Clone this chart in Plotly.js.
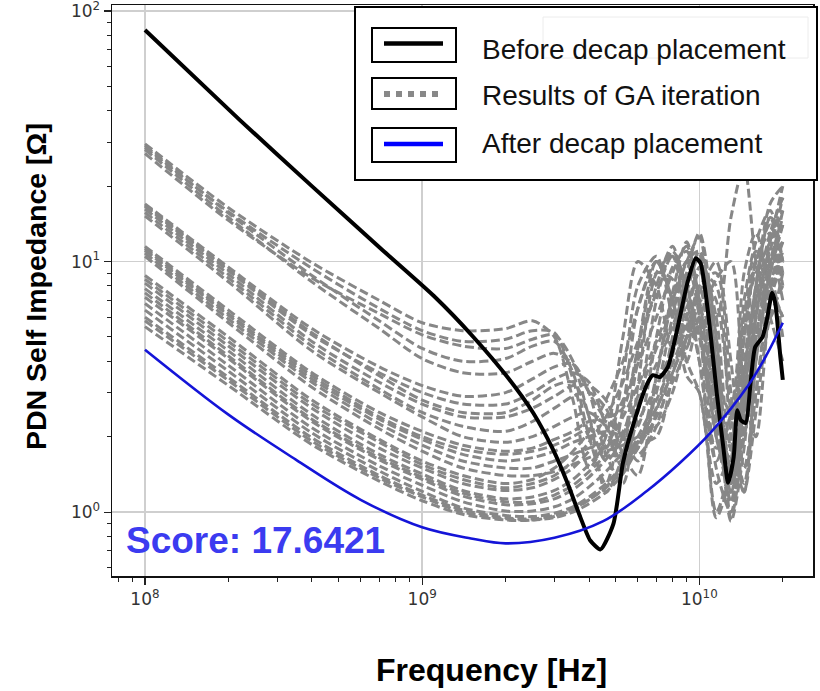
<!DOCTYPE html>
<html><head><meta charset="utf-8">
<script src="https://cdn.plot.ly/plotly-3.0.1.min.js"></script>
<style>html,body{margin:0;padding:0;background:#fff;} #chart{width:820px;height:691px;}</style>
</head><body><div id="chart"></div>
<script>
// ---------- data ----------
const gaFreq = [1e8, 2e8, 4e8, 7e8, 1e9, 1.4e9, 2e9, 2.5e9, 3e9, 3.5e9, 4e9, 4.6e9, 5.3e9, 6e9, 7e9, 8e9, 9e9, 1e10, 1.15e10, 1.3e10, 1.45e10, 1.6e10, 1.8e10, 2e10];
const gaRuns = [
  [29.5, 16.4, 9.9, 7.0, 5.7, 5.3, 5.4, 5.8, 5.0, 2.8, 1.5, 2.0, 5.0, 10.0, 8.0, 4.5, 6.0, 9.5, 3.5, 2.5, 9.0, 13.0, 8.0, 6.0],
  [28.5, 15.8, 9.4, 6.5, 5.3, 4.8, 4.9, 5.3, 5.2, 3.4, 2.0, 1.8, 3.5, 8.0, 10.5, 6.0, 4.0, 6.0, 2.5, 1.6, 5.0, 10.0, 14.0, 9.0],
  [29.0, 15.6, 8.8, 5.8, 4.5, 4.0, 4.1, 4.6, 4.8, 3.6, 2.0, 1.3, 2.6, 6.5, 10.0, 7.0, 4.5, 8.0, 3.0, 1.8, 6.0, 9.0, 12.0, 16.0],
  [28.0, 15.0, 8.3, 5.4, 4.1, 3.6, 3.6, 4.0, 4.3, 3.9, 3.0, 2.4, 2.6, 4.5, 9.0, 8.5, 5.0, 5.5, 2.8, 1.5, 3.5, 7.0, 10.0, 12.0],
  [27.0, 14.6, 8.6, 6.2, 5.1, 4.6, 4.5, 4.9, 5.1, 4.0, 2.4, 1.6, 2.0, 4.0, 8.0, 11.5, 7.0, 4.0, 1.8, 2.2, 7.0, 12.0, 16.0, 10.0],
  [17.0, 9.5, 5.4, 3.8, 3.2, 2.9, 3.0, 3.4, 3.8, 3.9, 3.0, 1.7, 1.3, 3.2, 9.0, 10.5, 6.0, 5.0, 2.2, 1.3, 4.0, 8.0, 15.0, 13.0],
  [16.8, 9.3, 5.2, 3.5, 2.8, 2.5, 2.5, 2.8, 3.2, 3.3, 2.4, 1.2, 1.7, 4.5, 10.0, 7.0, 3.5, 3.0, 1.0, 1.6, 5.0, 9.5, 6.0, 4.0],
  [16.6, 9.2, 5.1, 3.6, 3.0, 2.7, 2.7, 3.0, 3.4, 3.6, 3.3, 2.2, 1.5, 2.5, 7.0, 11.0, 8.0, 5.0, 2.0, 1.2, 3.0, 6.0, 11.0, 18.0],
  [16.2, 8.9, 4.8, 3.3, 2.7, 2.4, 2.4, 2.6, 2.9, 3.2, 3.2, 2.8, 2.0, 2.2, 5.0, 9.5, 11.0, 7.0, 2.5, 1.1, 2.5, 5.0, 9.0, 14.0],
  [15.7, 8.6, 4.6, 3.1, 2.5, 2.2, 2.1, 2.3, 2.6, 2.9, 3.0, 2.6, 1.7, 1.4, 3.5, 7.5, 12.0, 6.0, 0.95, 1.4, 2.5, 4.5, 8.0, 11.0],
  [15.2, 8.3, 4.4, 3.0, 2.4, 2.0, 1.9, 2.0, 2.2, 2.4, 2.5, 2.2, 1.7, 1.8, 3.0, 6.0, 10.0, 11.0, 4.0, 1.2, 2.2, 6.0, 12.0, 20.0],
  [11.5, 6.4, 3.6, 2.5, 2.1, 1.85, 1.75, 1.8, 1.95, 2.1, 2.3, 2.3, 2.0, 1.6, 2.5, 5.0, 9.0, 13.0, 5.0, 1.5, 2.0, 5.0, 10.0, 15.0],
  [11.3, 6.2, 3.5, 2.4, 2.0, 1.78, 1.7, 1.75, 1.85, 2.0, 2.15, 2.0, 1.6, 1.8, 3.5, 7.0, 10.0, 6.0, 1.5, 1.0, 3.0, 10.0, 8.0, 6.0],
  [11.1, 6.1, 3.4, 2.35, 1.95, 1.7, 1.6, 1.65, 1.75, 1.9, 2.0, 2.1, 2.0, 1.7, 2.2, 4.2, 7.5, 10.5, 6.0, 1.8, 1.5, 4.0, 9.0, 12.0],
  [10.8, 5.9, 3.3, 2.25, 1.85, 1.6, 1.5, 1.5, 1.6, 1.7, 1.8, 1.9, 1.95, 1.9, 2.0, 3.5, 6.0, 9.0, 7.0, 2.5, 1.3, 3.0, 7.0, 10.0],
  [10.5, 5.7, 3.15, 2.15, 1.75, 1.5, 1.4, 1.4, 1.45, 1.55, 1.65, 1.75, 1.85, 2.0, 2.2, 3.0, 5.0, 8.0, 9.0, 3.0, 1.2, 2.5, 6.0, 8.0],
  [8.8, 5.0, 2.8, 1.95, 1.6, 1.4, 1.3, 1.35, 1.5, 1.75, 2.1, 2.8, 4.0, 6.5, 10.0, 7.0, 4.0, 3.0, 1.3, 1.8, 5.0, 10.0, 13.0, 8.0],
  [8.5, 4.8, 2.7, 1.9, 1.55, 1.35, 1.25, 1.3, 1.4, 1.6, 1.9, 2.4, 3.3, 4.8, 7.5, 10.5, 8.0, 4.0, 1.6, 2.5, 6.0, 11.0, 9.0, 5.0],
  [8.2, 4.6, 2.6, 1.8, 1.5, 1.3, 1.22, 1.25, 1.35, 1.5, 1.75, 2.1, 2.8, 3.9, 6.0, 9.0, 11.5, 7.0, 2.0, 1.3, 3.5, 8.0, 15.0, 10.0],
  [7.8, 4.4, 2.45, 1.7, 1.42, 1.22, 1.13, 1.15, 1.22, 1.35, 1.55, 1.85, 2.4, 3.2, 4.8, 7.0, 10.0, 12.5, 3.0, 1.1, 2.5, 7.0, 13.0, 18.0],
  [7.5, 4.2, 2.35, 1.65, 1.38, 1.19, 1.1, 1.1, 1.17, 1.28, 1.45, 1.7, 2.1, 2.9, 4.5, 6.5, 9.0, 10.0, 4.0, 1.3, 3.0, 8.0, 17.0, 20.0],
  [7.2, 4.1, 2.3, 1.62, 1.35, 1.16, 1.07, 1.08, 1.13, 1.23, 1.38, 1.62, 2.0, 2.7, 3.9, 5.5, 8.0, 11.0, 5.0, 0.95, 2.0, 5.0, 10.0, 14.0],
  [6.8, 3.85, 2.17, 1.53, 1.28, 1.1, 1.01, 1.01, 1.05, 1.13, 1.26, 1.45, 1.75, 2.3, 3.2, 4.5, 6.5, 9.0, 8.0, 2.0, 1.2, 4.0, 9.0, 16.0],
  [6.4, 3.65, 2.07, 1.46, 1.21, 1.04, 0.97, 0.96, 0.99, 1.05, 1.15, 1.3, 1.55, 2.0, 2.8, 3.9, 5.5, 7.5, 10.0, 4.0, 1.5, 3.0, 8.0, 12.0],
  [6.0, 3.45, 1.98, 1.4, 1.17, 1.02, 0.95, 0.94, 0.97, 1.03, 1.12, 1.25, 1.48, 1.9, 2.6, 3.6, 5.0, 6.5, 3.0, 0.92, 1.8, 6.0, 11.0, 7.0],
  [5.8, 3.35, 1.92, 1.37, 1.15, 1.0, 0.94, 0.93, 0.95, 1.0, 1.08, 1.2, 1.42, 1.8, 2.4, 3.3, 4.5, 6.0, 8.5, 10.0, 3.0, 2.0, 7.0, 11.0],
  [5.5, 3.2, 1.86, 1.33, 1.11, 0.98, 0.93, 0.93, 0.96, 1.02, 1.12, 1.26, 1.5, 1.9, 2.6, 3.6, 5.0, 7.0, 6.0, 15.0, 24.0, 10.0, 6.0, 9.0]
];
const beforeFreq = [1e8, 2.2e8, 4e8, 7.2e8, 1.1e9, 1.53e9, 2.03e9, 2.52e9, 2.97e9, 3.34e9, 3.72e9, 4.04e9, 4.4e9, 4.9e9, 5.3e9, 5.8e9, 6.5e9, 6.8e9, 7.2e9, 7.7e9, 8.3e9, 9.1e9, 9.7e9, 1.01e10, 1.08e10, 1.16e10, 1.22e10, 1.27e10, 1.33e10, 1.37e10, 1.41e10, 1.47e10, 1.53e10, 1.59e10, 1.69e10, 1.76e10, 1.83e10, 1.88e10, 1.96e10, 2e10];
const beforeZ = [84, 36.7, 20.0, 11.1, 7.3, 5.0, 3.46, 2.48, 1.77, 1.31, 0.955, 0.77, 0.71, 0.90, 1.57, 2.27, 3.27, 3.52, 3.46, 3.8, 5.3, 8.4, 10.3, 9.86, 6.0, 2.88, 1.82, 1.31, 1.66, 2.55, 2.33, 2.27, 3.27, 4.56, 5.0, 6.0, 7.5, 6.8, 4.16, 3.37];
const afterFreq = [1e8, 2e8, 3.5e8, 6e8, 1e9, 1.5e9, 2e9, 3e9, 4.5e9, 6.5e9, 8.5e9, 1.1e10, 1.5e10, 1.75e10, 2e10];
const afterZ = [4.45, 2.45, 1.62, 1.12, 0.87, 0.785, 0.75, 0.79, 0.92, 1.22, 1.57, 2.08, 3.2, 4.25, 5.7];
const seriesNames = ['Before decap placement', 'Results of GA iteration', 'After decap placement'];
const xTickVals = [1e8, 1e9, 1e10];
const xTickText = ['10<sup>8</sup>', '10<sup>9</sup>', '10<sup>10</sup>'];
const yTickVals = [1, 10, 100];
const yTickText = ['10<sup>0</sup>', '10<sup>1</sup>', '10<sup>2</sup>'];
const scoreLabel = 'Score: 17.6421';
const xTitle = 'Frequency [Hz]';
const yTitle = 'PDN Self Impedance [Ω]';

// ---------- traces ----------
const traces = [];
gaRuns.forEach((z) => {
  traces.push({x: gaFreq, y: z, type: 'scatter', mode: 'lines', name: seriesNames[1],
    showlegend: false, hoverinfo: 'skip',
    line: {color: '#878787', width: 3, dash: '9px,4px', shape: 'spline', smoothing: 0.8}});
});
traces.push({x: beforeFreq, y: beforeZ, type: 'scatter', mode: 'lines', name: seriesNames[0],
  showlegend: false, line: {color: '#000', width: 4, shape: 'spline', smoothing: 0.6}});
traces.push({x: afterFreq, y: afterZ, type: 'scatter', mode: 'lines', name: seriesNames[2],
  showlegend: false, line: {color: '#1414d8', width: 2.6, shape: 'spline', smoothing: 1}});

// ---------- layout helpers (pixel -> paper) ----------
const L = 112, R = 813, T = 5, B = 576;
const PX = p => (p - L) / (R - L);
const PY = p => (B - p) / (B - T);
const FONT = 'Liberation Sans, Arial, sans-serif';

const shapes = [
  {type: 'rect', xref: 'paper', yref: 'paper', x0: PX(355), x1: PX(817), y0: PY(180), y1: PY(7),
   fillcolor: '#fff', line: {color: '#000', width: 2}, layer: 'above'},
  {type: 'rect', xref: 'paper', yref: 'paper', x0: PX(543), x1: PX(808), y0: PY(58), y1: PY(17),
   fillcolor: 'rgba(0,0,0,0)', line: {color: '#ececec', width: 1}, layer: 'above'}
];
const rows = [
  {y0: 28, y1: 62, ly: 43.5, ty: 50, color: '#000', dash: 'solid', w: 4.5},
  {y0: 78, y1: 109, ly: 94, ty: 95, color: '#888', dash: '6px,6px', w: 6},
  {y0: 128, y1: 162, ly: 144, ty: 143, color: '#0000ff', dash: 'solid', w: 4.5}
];
const annotations = [];
rows.forEach((r, i) => {
  shapes.push({type: 'rect', xref: 'paper', yref: 'paper', x0: PX(372), x1: PX(456), y0: PY(r.y1), y1: PY(r.y0),
    fillcolor: 'rgba(0,0,0,0)', line: {color: '#000', width: 2}, layer: 'above'});
  shapes.push({type: 'line', xref: 'paper', yref: 'paper', x0: PX(384), x1: PX(443), y0: PY(r.ly), y1: PY(r.ly),
    line: {color: r.color, width: r.w, dash: r.dash}, layer: 'above'});
  annotations.push({xref: 'paper', yref: 'paper', x: PX(480), y: PY(r.ty), xanchor: 'left', yanchor: 'middle',
    text: seriesNames[i], showarrow: false,
    font: {family: FONT, size: 28, color: '#111'}});
});
annotations.push({xref: 'paper', yref: 'paper', x: PX(124), y: PY(540), xanchor: 'left', yanchor: 'middle',
  text: scoreLabel, showarrow: false,
  font: {family: FONT, size: 37, color: '#3b3bf0', weight: 'bold'}});
// axis titles
annotations.push({xref: 'paper', yref: 'paper', x: PX(491), y: PY(670), xanchor: 'center', yanchor: 'middle',
  text: xTitle, showarrow: false, font: {family: FONT, size: 32, color: '#000', weight: 'bold'}});
annotations.push({xref: 'paper', yref: 'paper', x: PX(36), y: PY(287), xanchor: 'center', yanchor: 'middle',
  text: yTitle, showarrow: false, textangle: -90, font: {family: FONT, size: 28.5, color: '#000', weight: 'bold'}});

const axisCommon = {
  type: 'log', tickmode: 'array', ticklabeloverflow: 'allow',
  tickfont: {family: 'DejaVu Sans, sans-serif', size: 17, color: '#333'},
  ticks: 'outside', ticklen: 7, tickwidth: 1.2, tickcolor: '#222',
  showline: true, linecolor: '#111', linewidth: 1.5, mirror: true,
  showgrid: true, gridcolor: '#cfcfcf', gridwidth: 1.5, zeroline: false,
  minor: {ticks: 'outside', ticklen: 4, tickwidth: 1, tickcolor: '#222', showgrid: false, dtick: 'D1'},
  automargin: false
};

const layout = {
  width: 820, height: 691,
  margin: {l: L, r: 820 - R, t: T, b: 691 - B, pad: 0},
  paper_bgcolor: '#fff', plot_bgcolor: '#fff',
  showlegend: false,
  xaxis: Object.assign({}, axisCommon, {range: [7.881, 10.41], tickvals: xTickVals, ticktext: xTickText}),
  yaxis: Object.assign({}, axisCommon, {range: [-0.255, 2.024], tickvals: yTickVals, ticktext: yTickText}),
  shapes: shapes,
  annotations: annotations
};

Plotly.newPlot('chart', traces, layout, {staticPlot: true, displayModeBar: false});
</script>
</body></html>
